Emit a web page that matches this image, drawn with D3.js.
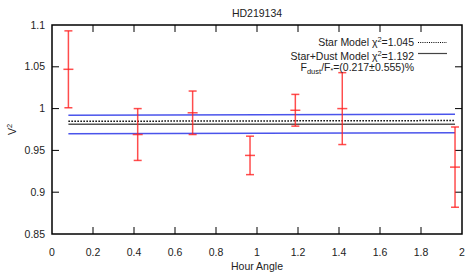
<!DOCTYPE html>
<html>
<head>
<meta charset="utf-8">
<script src="https://cdn.jsdelivr.net/npm/d3@7"></script>
<style>
  body { margin: 0; background: #fff; }
  text { font-family: "Liberation Sans", Arial, sans-serif; fill: #222; }
</style>
</head>
<body>
<svg width="466" height="272"></svg>
<script>
// observations: hour angle, V^2 and its error
var hourAngle = [0.08, 0.418, 0.686, 0.966, 1.187, 1.416, 1.966];
var vis2      = [1.047, 0.969, 0.995, 0.944, 0.998, 1.000, 0.930];
var vis2Err   = [0.046, 0.031, 0.026, 0.023, 0.019, 0.043, 0.048];

// model curves, sampled at first and last hour angle
var modelHA     = [0.08, 1.966];
var starModel   = [0.9848, 0.9857];
var dustModel   = [0.9812, 0.9813];
var dustUpper   = [0.9920, 0.9932];
var dustLower   = [0.9700, 0.9712];

var xTicks = [0, 0.2, 0.4, 0.6, 0.8, 1, 1.2, 1.4, 1.6, 1.8, 2];
var yTicks = [0.85, 0.9, 0.95, 1, 1.05, 1.1];

var svg = d3.select("svg"),
    margin = {top: 25, right: 4, bottom: 38, left: 52},
    width = 466 - margin.left - margin.right,
    height = 272 - margin.top - margin.bottom,
    g = svg.append("g").attr("transform", "translate(" + margin.left + "," + margin.top + ")");

var x = d3.scaleLinear().domain([0, 2]).range([0, width]);
var y = d3.scaleLinear().domain([0.85, 1.1]).range([height, 0]);

var tickLen = 7;
var fs = "10.5px";

// ticks inside the frame, on all four sides
g.append("g").selectAll("line")
  .data(xTicks.slice(1, -1))
  .enter().append("line")
    .attr("x1", x).attr("x2", x)
    .attr("y1", height).attr("y2", height - tickLen)
    .attr("stroke", "#000");
g.append("g").selectAll("line")
  .data(xTicks.slice(1, -1))
  .enter().append("line")
    .attr("x1", x).attr("x2", x)
    .attr("y1", 0).attr("y2", tickLen)
    .attr("stroke", "#000");
g.append("g").selectAll("line")
  .data(yTicks.slice(1, -1))
  .enter().append("line")
    .attr("y1", y).attr("y2", y)
    .attr("x1", 0).attr("x2", tickLen)
    .attr("stroke", "#000");
g.append("g").selectAll("line")
  .data(yTicks.slice(1, -1))
  .enter().append("line")
    .attr("y1", y).attr("y2", y)
    .attr("x1", width).attr("x2", width - tickLen)
    .attr("stroke", "#000");

// tick labels
g.append("g").selectAll("text")
  .data(xTicks)
  .enter().append("text")
    .attr("x", x)
    .attr("y", height + 18)
    .attr("dy", "0.35em")
    .attr("text-anchor", "middle")
    .style("font-size", fs)
    .text(function(d) { return d; });

g.append("g").selectAll("text")
  .data(yTicks)
  .enter().append("text")
    .attr("x", -7)
    .attr("y", y)
    .attr("dy", "0.35em")
    .attr("text-anchor", "end")
    .style("font-size", fs)
    .text(function(d) { return d; });

// model lines
var line = d3.line()
  .x(function(d) { return x(d[0]); })
  .y(function(d) { return y(d[1]); });

function pairs(vals) { return modelHA.map(function(h, i) { return [h, vals[i]]; }); }

g.append("path").datum(pairs(dustUpper))
  .attr("d", line).attr("fill", "none")
  .attr("stroke", "#2a36e8").attr("stroke-opacity", 0.85).attr("stroke-width", 1.5);
g.append("path").datum(pairs(dustLower))
  .attr("d", line).attr("fill", "none")
  .attr("stroke", "#2a36e8").attr("stroke-opacity", 0.85).attr("stroke-width", 1.5);
g.append("path").datum(pairs(starModel))
  .attr("d", line).attr("fill", "none")
  .attr("stroke", "#000").attr("stroke-width", 1.5).attr("stroke-dasharray", "1.5,1.5");
g.append("path").datum(pairs(dustModel))
  .attr("d", line).attr("fill", "none")
  .attr("stroke", "#555").attr("stroke-width", 1.5);

// error bars
var pts = g.append("g")
  .attr("stroke", "#ff2020")
  .attr("stroke-opacity", 0.8)
  .attr("stroke-width", 1.5)
  .selectAll("g")
  .data(hourAngle.map(function(h, i) { return {h: h, v: vis2[i], e: vis2Err[i]}; }))
  .enter().append("g");

pts.append("line")
  .attr("x1", function(d) { return x(d.h); }).attr("x2", function(d) { return x(d.h); })
  .attr("y1", function(d) { return y(d.v - d.e); }).attr("y2", function(d) { return y(d.v + d.e); });
pts.append("line")
  .attr("x1", function(d) { return x(d.h) - 4; }).attr("x2", function(d) { return x(d.h) + 4; })
  .attr("y1", function(d) { return y(d.v - d.e); }).attr("y2", function(d) { return y(d.v - d.e); });
pts.append("line")
  .attr("x1", function(d) { return x(d.h) - 4; }).attr("x2", function(d) { return x(d.h) + 4; })
  .attr("y1", function(d) { return y(d.v + d.e); }).attr("y2", function(d) { return y(d.v + d.e); });
pts.append("line")
  .attr("x1", function(d) { return x(d.h) - 5; }).attr("x2", function(d) { return x(d.h) + 5; })
  .attr("y1", function(d) { return y(d.v); }).attr("y2", function(d) { return y(d.v); });

// frame
g.append("rect")
  .attr("width", width).attr("height", height)
  .attr("fill", "none").attr("stroke", "#000").attr("stroke-width", 1.5);

// legend
var leg = g.append("g").style("font-size", fs);
leg.append("text").attr("x", 362).attr("y", 17.5).attr("dy", "0.35em").attr("text-anchor", "end")
  .html('Star Model \u03c7<tspan dy="-4" font-size="7.5px">2</tspan><tspan dy="4">=1.045</tspan>');
leg.append("line").attr("x1", 366).attr("x2", 395).attr("y1", 17.5).attr("y2", 17.5)
  .attr("stroke", "#000").attr("stroke-width", 1.1).attr("stroke-dasharray", "1,1.2");
leg.append("text").attr("x", 362).attr("y", 31).attr("dy", "0.35em").attr("text-anchor", "end")
  .html('Star+Dust Model \u03c7<tspan dy="-4" font-size="7.5px">2</tspan><tspan dy="4">=1.192</tspan>');
leg.append("line").attr("x1", 366).attr("x2", 395).attr("y1", 28.5).attr("y2", 28.5)
  .attr("stroke", "#444").attr("stroke-width", 1.2);
leg.append("text").attr("x", 362).attr("y", 42).attr("dy", "0.35em").attr("text-anchor", "end")
  .html('F<tspan dy="3" font-size="7.5px">dust</tspan><tspan dy="-3">/F</tspan><tspan dy="2" font-size="7px">*</tspan><tspan dy="-2">=(0.217\u00b10.555)%</tspan>');

// titles
svg.append("text")
  .attr("x", margin.left + width / 2).attr("y", 13).attr("dy", "0.35em")
  .attr("text-anchor", "middle").style("font-size", fs)
  .text("HD219134");
svg.append("text")
  .attr("x", margin.left + width / 2).attr("y", 266).attr("dy", "0.35em")
  .attr("text-anchor", "middle").style("font-size", fs)
  .text("Hour Angle");
svg.append("text")
  .attr("transform", "translate(12," + (margin.top + height / 2) + ")rotate(-90)")
  .attr("dy", "0.35em")
  .attr("text-anchor", "middle").style("font-size", fs)
  .html('V<tspan dy="-4" font-size="7.5px">2</tspan>');
</script>
</body>
</html>
